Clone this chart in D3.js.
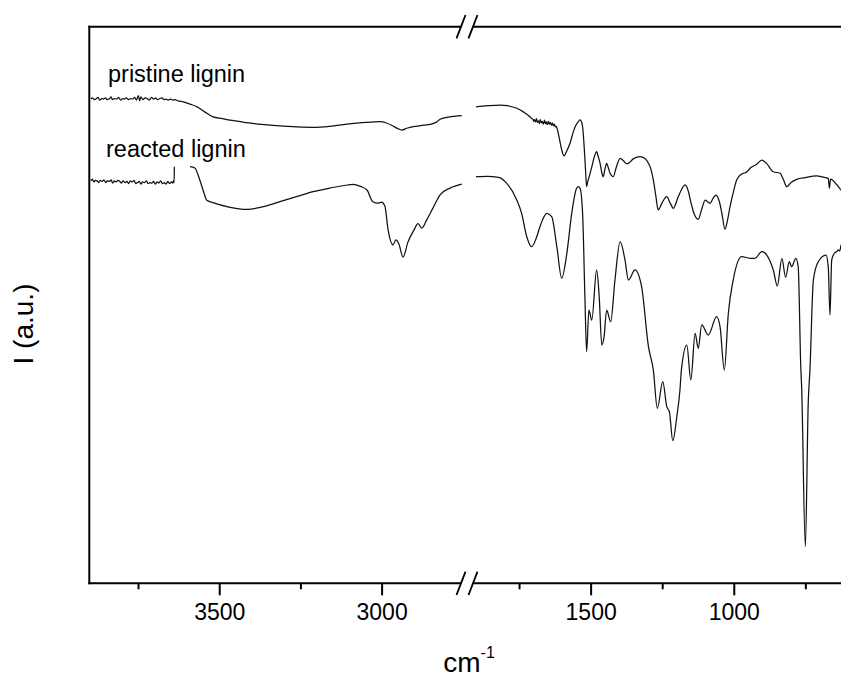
<!DOCTYPE html>
<html>
<head>
<meta charset="utf-8">
<script src="https://cdn.jsdelivr.net/npm/d3@7"></script>
<style>
  html, body { margin: 0; padding: 0; background: #fff; }
  svg { display: block; }
  text { font-family: "Liberation Sans", Arial, sans-serif; fill: #000; }
</style>
</head>
<body>
<svg id="chart" width="841" height="677"></svg>
<script>
// Wavenumber ranges of the two x-axis segments (cm-1), high to low
const domainHigh = [3900, 2750];
const domainLow = [1900, 600];
const intensityDomain = [0, 100];

const majorTicksHigh = [3500, 3000];
const minorTicksHigh = [3750, 3250];
const majorTicksLow = [1500, 1000];
const minorTicksLow = [1750, 1250, 750];

const seriesLabels = ["pristine lignin", "reacted lignin"];

// [wavenumber, intensity] pairs
const pristineHigh = [
  [3895,87.0],[3890,87.2],[3884,86.9],[3880,87.0],[3873,87.3],[3868,86.8],[3861,87.1],[3857,87.0],
  [3850,87.2],[3846,86.9],[3839,87.0],[3833,87.4],[3829,86.9],[3822,87.1],[3815,87.0],[3810,87.3],
  [3803,86.8],[3797,87.1],[3792,87.0],[3786,87.2],[3779,86.9],[3772,87.1],[3766,87.0],[3760,87.3],
  [3755,86.8],[3749,87.6],[3745,86.7],[3741,87.4],[3735,86.9],[3728,87.2],[3722,87.1],[3715,86.8],
  [3709,87.3],[3702,87.0],[3696,87.2],[3690,86.9],[3683,87.1],[3676,87.2],[3670,86.9],[3664,87.0],
  [3657,86.8],[3650,87.0],[3643,86.8],[3636,86.9],[3628,86.7],[3610,86.5],[3590,86.1],[3568,85.6],
  [3545,84.7],[3519,83.8],[3490,83.5],[3467,83.2],[3440,83.0],[3414,82.75],[3360,82.4],[3313,82.16],
  [3260,82.0],[3211,81.93],[3160,82.1],[3107,82.5],[3050,82.8],[3005,82.93],[2985,82.7],[2965,82.16],
  [2950,81.7],[2938,81.44],[2920,81.8],[2903,82.04],[2870,82.3],[2842,82.6],[2830,82.9],[2820,83.36],
  [2799,83.72],[2775,83.9],[2753,84.01]
];

const pristineLow = [
  [1900,85.6],[1860,85.8],[1816,85.93],[1790,85.8],[1758,85.34],[1735,84.7],[1712,83.83],[1706,83.5],
  [1702,83.4],[1699,83.0],[1696,83.3],[1692,82.9],[1689,83.5],[1686,82.8],[1682,83.1],[1679,82.6],
  [1676,83.3],[1672,82.7],[1669,83.0],[1665,82.5],[1661,83.2],[1658,82.6],[1655,82.9],[1651,82.4],
  [1648,83.0],[1644,82.5],[1641,82.8],[1637,82.3],[1634,82.7],[1630,82.2],[1627,82.5],[1623,82.0],
  [1620,82.1],[1613,80.85],[1605,78.8],[1598,77.3],[1593,76.77],[1585,77.5],[1572,79.05],[1560,81.2],
  [1554,82.03],[1545,82.8],[1537,83.24],[1532,82.9],[1528,82.03],[1522,78.0],[1517,73.5],[1514,71.25],
  [1510,72.2],[1505,73.05],[1495,75.0],[1486,76.8],[1479,77.54],[1473,76.6],[1467,75.46],[1461,73.8],
  [1456,73.05],[1450,74.4],[1444,75.46],[1438,74.6],[1432,73.66],[1426,73.2],[1421,73.05],[1410,74.8],
  [1397,76.36],[1385,75.9],[1375,75.4],[1368,75.46],[1350,76.3],[1327,76.64],[1310,76.3],[1298,75.46],
  [1290,74.5],[1281,72.46],[1272,69.5],[1264,67.07],[1250,68.4],[1234,69.46],[1222,68.3],[1211,67.37],
  [1195,69.3],[1182,70.8],[1170,71.56],[1158,70.3],[1150,68.5],[1141,66.76],[1124,65.4],[1112,67.2],
  [1100,68.86],[1090,68.5],[1083,68.27],[1072,69.2],[1062,69.76],[1050,68.5],[1040,66.0],[1031,63.6],
  [1022,65.2],[1013,67.66],[1000,70.6],[990,72.46],[972,73.54],[955,73.9],[943,74.56],[920,75.3],
  [902,76.05],[885,75.4],[862,73.95],[838,73.66],[827,72.58],[815,71.25],[800,72.0],[780,72.58],
  [750,72.9],[710,73.18],[690,73.0],[670,72.76],[666,71.0],[662,72.6],[640,71.6],[625,70.66],[610,70.0]
];

// null marks the stretch with no recorded data
const reactedHigh = [
  [3895,72.3],[3891,72.6],[3886,72.1],[3882,72.4],[3876,72.3],[3871,72.0],[3866,72.4],[3860,72.2],
  [3855,72.5],[3849,72.0],[3845,72.3],[3838,72.2],[3833,72.5],[3828,71.9],[3823,72.3],[3817,72.1],
  [3812,72.4],[3806,72.2],[3801,71.9],[3796,72.3],[3790,72.0],[3784,72.2],[3779,71.8],[3774,72.3],
  [3768,72.1],[3762,72.4],[3757,71.8],[3752,72.0],[3746,72.2],[3741,71.7],[3736,72.1],[3730,72.0],
  [3724,72.3],[3719,71.8],[3713,72.0],[3708,71.9],[3702,72.2],[3697,71.7],[3691,72.1],[3686,71.9],
  [3680,72.3],[3675,71.8],[3669,72.0],[3664,71.7],[3658,72.2],[3653,71.8],[3647,72.1],[3643,71.9],
  [3640,72.4],[3639,72.0],[3638,74.85],[3620,null],
  [3590,74.85],[3575,74.61],[3560,72.5],[3545,69.8],[3539,68.86],[3519,68.38],[3470,67.6],[3414,67.19],
  [3360,67.7],[3313,68.56],[3260,69.5],[3211,70.36],[3160,71.0],[3107,71.56],[3088,71.68],[3065,71.3],
  [3045,70.66],[3027,68.56],[3011,68.3],[3000,68.5],[2990,67.8],[2980,63.5],[2965,60.8],[2956,61.7],
  [2947,61.0],[2934,58.6],[2919,61.3],[2900,63.5],[2888,64.6],[2876,63.8],[2861,65.3],[2842,67.4],
  [2820,69.8],[2789,71.0],[2753,71.7]
];

const reactedLow = [
  [1900,73.05],[1860,73.1],[1822,72.94],[1793,71.86],[1758,68.86],[1741,66.47],[1723,62.27],[1706,60.47],
  [1690,62.0],[1677,64.07],[1653,66.47],[1636,65.87],[1618,60.47],[1601,54.8],[1583,59.29],[1566,66.47],
  [1549,70.97],[1543,71.25],[1537,70.97],[1528,66.47],[1520,51.49],[1514,41.61],[1506,49.1],[1496,47.3],
  [1479,56.29],[1470,51.49],[1461,42.81],[1453,44.3],[1444,49.1],[1430,47.0],[1415,54.49],[1397,61.37],
  [1380,58.09],[1368,54.49],[1345,56.29],[1322,53.29],[1298,42.51],[1281,38.32],[1267,31.44],[1248,36.22],
  [1234,31.73],[1225,30.83],[1213,25.62],[1199,29.93],[1188,34.73],[1183,38.32],[1164,42.81],[1150,36.52],
  [1135,44.92],[1124,42.22],[1112,46.41],[1089,44.61],[1060,47.9],[1048,46.1],[1033,38.32],[1019,48.51],
  [1002,54.49],[972,58.68],[943,58.39],[926,58.39],[902,59.58],[862,56.29],[848,53.41],[832,58.39],
  [819,54.98],[806,57.78],[798,56.88],[783,58.39],[775,56.88],[766,38.92],[763,35.32],[750,6.58],
  [740,32.34],[734,38.32],[722,54.49],[705,57.78],[678,58.98],[670,56.88],[664,48.2],[658,58.08],
  [647,59.4],[640,59.6],[635,59.9],[630,59.7],[625,60.78],[610,61.2]
];

const svg = d3.select("#chart");

const xHigh = d3.scaleLinear().domain(domainHigh).range([89.3, 462.8]);
const xLow = d3.scaleLinear().domain(domainLow).range([476.1, 848.3]);
const y = d3.scaleLinear().domain(intensityDomain).range([583.3, 26.7]);

const plotTop = y(intensityDomain[1]);
const plotBottom = y(intensityDomain[0]);
const plotLeft = xHigh.range()[0];
const plotRight = xLow.range()[1];

// Spectra
function drawSpectrum(data, x) {
  const line = d3.line()
    .defined(d => d[1] != null)
    .x(d => x(d[0]))
    .y(d => y(d[1]))
    .curve(d3.curveMonotoneX);
  svg.append("path")
    .datum(data)
    .attr("d", line)
    .attr("fill", "none")
    .attr("stroke", "#111")
    .attr("stroke-width", 1.25)
    .attr("stroke-linejoin", "round");
}
drawSpectrum(pristineHigh, xHigh);
drawSpectrum(pristineLow, xLow);
drawSpectrum(reactedHigh, xHigh);
drawSpectrum(reactedLow, xLow);

// Bottom axis segments: labelled major ticks and short minor ticks
function drawAxis(x, major, minor) {
  const gMajor = svg.append("g")
    .attr("transform", `translate(0,${plotBottom})`)
    .call(d3.axisBottom(x).tickValues(major).tickFormat(d3.format("d"))
      .tickSize(12).tickSizeOuter(0).tickPadding(8));
  const gMinor = svg.append("g")
    .attr("transform", `translate(0,${plotBottom})`)
    .call(d3.axisBottom(x).tickValues(minor).tickSize(6).tickSizeOuter(0).tickFormat(""));
  [gMajor, gMinor].forEach(g => {
    g.select(".domain").remove();
    g.selectAll(".tick line").attr("stroke", "#000").attr("stroke-width", 2);
  });
  gMajor.selectAll(".tick text")
    .style("font-family", '"Liberation Sans", Arial, sans-serif')
    .style("font-size", "23px")
    .attr("fill", "#000");
}
drawAxis(xHigh, majorTicksHigh, minorTicksHigh);
drawAxis(xLow, majorTicksLow, minorTicksLow);

// Frame with a gap at the axis break
const breakL = 461.5;
const breakR = 472.7;
const frame = svg.append("g")
  .attr("stroke", "#000")
  .attr("stroke-width", 2)
  .attr("fill", "none");
frame.append("line").attr("x1", plotLeft).attr("x2", plotLeft).attr("y1", plotTop - 1).attr("y2", plotBottom + 1);
frame.append("line").attr("x1", plotRight).attr("x2", plotRight).attr("y1", plotTop).attr("y2", plotBottom);
[plotTop, plotBottom].forEach(yy => {
  frame.append("line").attr("x1", plotLeft - 1).attr("x2", breakL).attr("y1", yy).attr("y2", yy);
  frame.append("line").attr("x1", breakR).attr("x2", plotRight).attr("y1", yy).attr("y2", yy);
  // break marks: two parallel slashes
  [breakL - 0.5, breakR + 0.3].forEach(cx => {
    frame.append("line")
      .attr("x1", cx - 4.5).attr("y1", yy + 11.7)
      .attr("x2", cx + 4.5).attr("y2", yy - 11.7)
      .attr("stroke-width", 1.8);
  });
});

// Series labels
svg.append("text")
  .attr("x", 108).attr("y", 81.5)
  .style("font-size", "23.5px")
  .text(seriesLabels[0]);
svg.append("text")
  .attr("x", 106).attr("y", 157)
  .style("font-size", "23.5px")
  .text(seriesLabels[1]);

// Axis titles
const xTitle = svg.append("text")
  .attr("x", 469).attr("y", 671.5)
  .attr("text-anchor", "middle")
  .style("font-size", "28px");
xTitle.append("tspan").text("cm");
xTitle.append("tspan").attr("dy", -14).style("font-size", "16px").text("-1");

svg.append("text")
  .attr("transform", "translate(33,324) rotate(-90)")
  .attr("text-anchor", "middle")
  .style("font-size", "28px")
  .text("I (a.u.)");
</script>
</body>
</html>
